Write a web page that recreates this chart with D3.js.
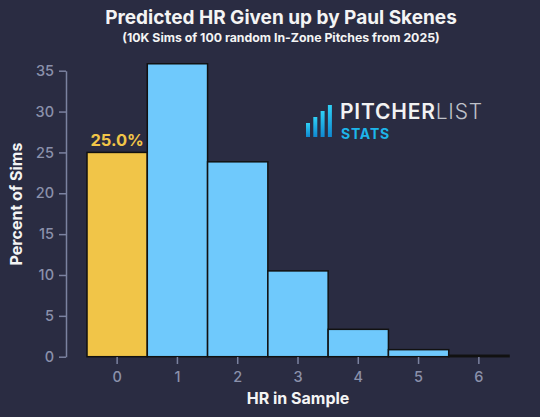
<!DOCTYPE html>
<html><head><meta charset="utf-8">
<script src="https://cdn.jsdelivr.net/npm/d3@7"></script>
<style>body{margin:0;background:#2a2c42;}svg{display:block;}</style>
</head><body>
<script>
const categories = ["0","1","2","3","4","5","6"];
const values = [25.0, 35.85, 23.85, 10.5, 3.35, 0.86, 0.17];
const yTicks = [0,5,10,15,20,25,30,35];
const highlightLabel = "25.0%";
const title = "Predicted HR Given up by Paul Skenes";
const subtitle = "(10K Sims of 100 random In-Zone Pitches from 2025)";

const W=540,H=417;
const font="Inter, 'DejaVu Sans', sans-serif";
const svg=d3.select("body").append("svg").attr("width",W).attr("height",H);
svg.append("rect").attr("width",W).attr("height",H).attr("fill","#2a2c42");

const x=d3.scaleBand().domain(categories).range([87,509]).padding(0);
const y=d3.scaleLinear().domain([0,35]).range([356.7,70.7]);

// logo
const lg=svg.append("g");
const barsH=[14,20,26,32];
const grad=svg.append("defs").append("linearGradient").attr("id","lgd").attr("x1",0).attr("x2",0).attr("y1",0).attr("y2",1);
grad.append("stop").attr("offset","0%").attr("stop-color","#2fd0f5");
grad.append("stop").attr("offset","100%").attr("stop-color","#0f88d0");
barsH.forEach((h,i)=>lg.append("rect").attr("x",306+i*7.3).attr("y",137-h).attr("width",4).attr("height",h).attr("fill","url(#lgd)"));
const t1=lg.append("text").attr("x",340).attr("y",119).attr("font-family",font).attr("font-size",21).attr("fill","#f2f2f2").attr("font-weight",600).attr("letter-spacing",0.8);
t1.append("tspan").text("PITCHER");
t1.append("tspan").attr("font-weight",300).attr("fill","#bfc1c8").text("LIST");
lg.append("text").attr("x",341).attr("y",138.5).attr("font-family",font).attr("font-size",14).attr("font-weight",700).attr("fill","#1db5ea").attr("letter-spacing",0.8).text("STATS");

// bars
svg.selectAll("rect.bar").data(values).enter().append("rect").attr("class","bar")
  .attr("x",(d,i)=>x(categories[i])).attr("width",x.bandwidth())
  .attr("y",d=>y(d)).attr("height",d=>y(0)-y(d))
  .attr("fill",(d,i)=>i===0?"#f1c548":"#6fc9fc").attr("stroke","#111").attr("stroke-width",1.5);

svg.append("text").attr("x",x("0")+x.bandwidth()/2).attr("y",146)
  .attr("text-anchor","middle").attr("font-family",font).attr("font-weight",700).attr("font-size",16.5)
  .attr("fill","#f1c548").text(highlightLabel);

// y axis
const axCol="#7b82a0", lblCol="#8b91ab";
const ya=svg.append("g").attr("transform","translate(66,0)").call(d3.axisLeft(y).tickValues(yTicks).tickSize(7).tickPadding(5).tickSizeOuter(0));
ya.select(".domain").attr("stroke",axCol).attr("stroke-width",1.5);
ya.selectAll(".tick line").attr("stroke",axCol).attr("stroke-width",1.5);
ya.selectAll(".tick text").attr("fill",lblCol).attr("font-family",font).attr("font-size",14.5).attr("font-weight",500);

// x axis
const xa=svg.append("g").attr("transform","translate(0,357)").call(d3.axisBottom(x).tickSize(7).tickPadding(8).tickSizeOuter(0));
xa.select(".domain").remove();
xa.selectAll(".tick line").attr("stroke",axCol).attr("stroke-width",1.5);
xa.selectAll(".tick text").attr("fill",lblCol).attr("font-family",font).attr("font-size",14.5).attr("font-weight",500);

// titles
svg.append("text").attr("x",281).attr("y",24).attr("text-anchor","middle").attr("font-family",font).attr("font-weight",700).attr("font-size",19).attr("fill","#f4f4f4").text(title);
svg.append("text").attr("x",281).attr("y",42).attr("text-anchor","middle").attr("font-family",font).attr("font-weight",700).attr("font-size",12.3).attr("fill","#f4f4f4").text(subtitle);
svg.append("text").attr("x",x("3")+x.bandwidth()/2).attr("y",404).attr("text-anchor","middle").attr("font-family",font).attr("font-weight",700).attr("font-size",16).attr("fill","#f4f4f4").text("HR in Sample");
svg.append("text").attr("transform","translate(22,204) rotate(-90)").attr("text-anchor","middle").attr("font-family",font).attr("font-weight",700).attr("font-size",16).attr("fill","#f4f4f4").text("Percent of Sims");
</script>
</body></html>
